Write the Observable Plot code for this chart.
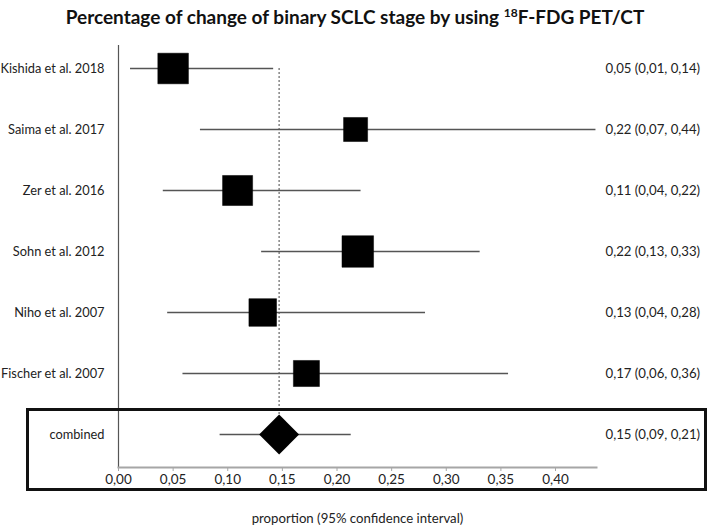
<!DOCTYPE html>
<html>
<head>
<meta charset="utf-8">
<script src="https://cdn.jsdelivr.net/npm/d3@7"></script>
<script src="https://cdn.jsdelivr.net/npm/@observablehq/plot@0.6"></script>
<style>
  html, body { margin: 0; padding: 0; background: #fff; }
  #wrap { position: relative; width: 710px; height: 530px; font-family: Lato, "Open Sans", sans-serif; color: #222; }
  #title { height: 34px; line-height: 34px; text-align: center; font-size: 19px; font-weight: bold; color: #111; }
  #title sup { font-size: 12px; line-height: 0; vertical-align: 7px; }
  #box { position: absolute; left: 26px; top: 408px; width: 681px; height: 83px; box-sizing: border-box; border: 3px solid #111; pointer-events: none; }
</style>
</head>
<body>
<div id="wrap">
  <div id="title">Percentage of change of binary SCLC stage by using <sup>18</sup>F-FDG PET/CT</div>
  <div id="chart"></div>
  <div id="box"></div>
</div>
<script>
// ---- data ----
const studies = ["Kishida et al. 2018", "Saima et al. 2017", "Zer et al. 2016", "Sohn et al. 2012", "Niho et al. 2007", "Fischer et al. 2007"];
const estimates = [0.05, 0.217, 0.109, 0.219, 0.132, 0.172];
const lower = [0.011, 0.075, 0.041, 0.131, 0.045, 0.059];
const upper = [0.142, 0.437, 0.222, 0.331, 0.281, 0.357];
const weights = [19.3, 11.9, 18.6, 20.5, 15.7, 14.0];
const ciLabels = ["0,05 (0,01, 0,14)", "0,22 (0,07, 0,44)", "0,11 (0,04, 0,22)", "0,22 (0,13, 0,33)", "0,13 (0,04, 0,28)", "0,17 (0,06, 0,36)"];

const combinedName = "combined";
const combinedEstimate = 0.147;
const combinedLower = 0.093;
const combinedUpper = 0.213;
const combinedLabel = "0,15 (0,09, 0,21)";

const xTicks = [0, 0.05, 0.10, 0.15, 0.20, 0.25, 0.30, 0.35, 0.40];
const xLabel = "proportion (95% confidence interval)";

// ---- tables ----
const rows = studies.map((s, i) => ({study: s, est: estimates[i], lo: lower[i], hi: upper[i], w: weights[i], label: ciLabels[i]}));
const combined = [{study: combinedName, est: combinedEstimate, lo: combinedLower, hi: combinedUpper, label: combinedLabel}];
const allRows = rows.concat(combined);

const fmt = d => d3.format(".2f")(d).replace(".", ",");

const chart = Plot.plot({
  width: 710,
  height: 496,
  marginLeft: 118,
  marginRight: 114,
  marginTop: 1,
  marginBottom: 63,
  style: {fontFamily: "Lato, 'Open Sans', sans-serif", fontSize: "13px", color: "#222", background: "#fff"},
  x: {domain: [0, 0.4375]},
  y: {domain: studies.concat([combinedName]), type: "point", padding: 0.5},
  r: {domain: [0, 20.5], range: [0, 17.8]},
  marks: [
    // left vertical axis line
    Plot.frame({anchor: "left", stroke: "#555", strokeWidth: 1.2, insetTop: 10}),
    // bottom axis line
    Plot.frame({anchor: "bottom", stroke: "#a6a6a6", strokeWidth: 2}),
    // reference dotted line at pooled estimate
    Plot.ruleX(combined, {x: "est", y1: () => studies[0], y2: "study", stroke: "#333", strokeWidth: 0.9, strokeDasharray: "2,2", insetBottom: 20}),
    // confidence intervals
    Plot.ruleY(allRows, {y: "study", x1: "lo", x2: "hi", stroke: "#555", strokeWidth: 1.3}),
    // study squares
    Plot.dot(rows, {x: "est", y: "study", r: "w", symbol: "square", fill: "#000", stroke: "#000", strokeWidth: 0.5}),
    // combined diamond
    Plot.dot(combined, {x: "est", y: "study", r: 18, symbol: "diamond2", fill: "#000"}),
    // right labels
    Plot.text(allRows, {y: "study", text: "label", frameAnchor: "right", textAnchor: "start", dx: 9, fontSize: 13.2, fill: "#222"}),
    // axes
    Plot.axisY({tickSize: 0, tickPadding: 14, label: null, fontSize: 12.8, fill: "#222"}),
    Plot.axisX({ticks: xTicks, tickFormat: fmt, tickSize: 4, tickPadding: 3, stroke: "#a6a6a6", label: null, fontSize: 13.5, fill: "#222"}),
    // x axis title
    Plot.text([xLabel], {text: d => d, frameAnchor: "bottom", dy: 55, fontSize: 13.2, fill: "#222"})
  ]
});
document.getElementById("chart").appendChild(chart);
</script>
</body>
</html>
